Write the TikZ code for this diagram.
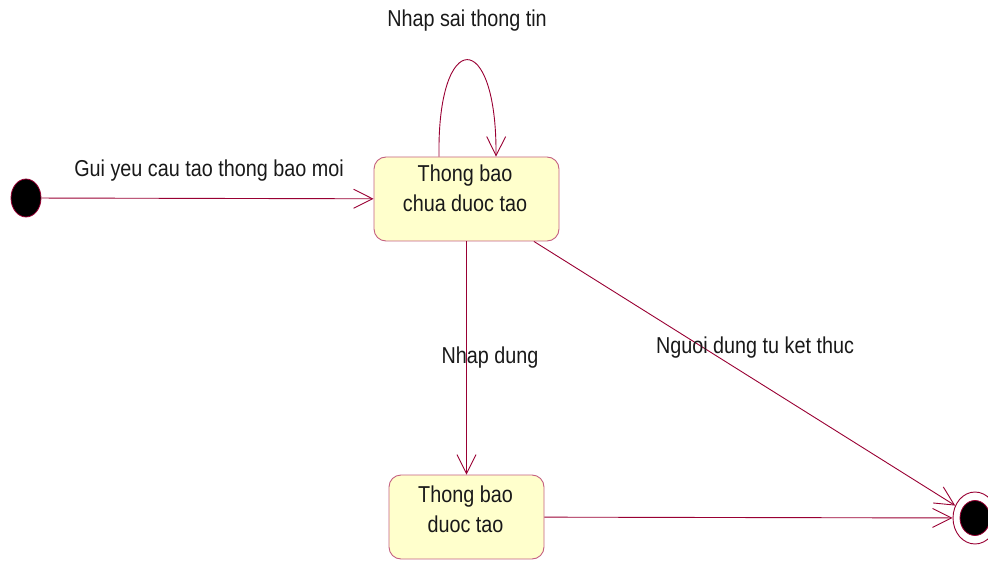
\documentclass[tikz,border=0pt]{standalone}
\usepackage{fontspec}
\setmainfont{Liberation Sans}[FakeStretch=0.86]
\usetikzlibrary{arrows.meta,shapes.geometric}
\definecolor{wire}{RGB}{153,0,51}
\definecolor{boxedge}{RGB}{196,96,128}
\definecolor{boxfill}{RGB}{255,255,204}
\tikzset{
  statebox/.style={draw=boxedge, fill=boxfill, line width=0.9pt, rounded corners=12pt, inner sep=0pt},
  txt/.style={font=\fontsize{23}{30}\selectfont, inner sep=0pt, text=black!90},
  flow/.style={draw=wire, line width=0.9pt, -{Straight Barb[length=19pt,width=19pt,line width=0.9pt]}},
  startdot/.style={ellipse, draw=wire, fill=black, line width=0.8pt, minimum width=30pt, minimum height=38pt, inner sep=0pt},
}
\begin{document}
\begin{tikzpicture}[x=1pt,y=-1pt]
\useasboundingbox (0,0) rectangle (988,561);

% states
\node[statebox, minimum width=185pt, minimum height=84pt] (s1) at (466.5,199) {};
\node[statebox, minimum width=155pt, minimum height=84pt] (s2) at (466.5,517) {};
\node[txt, anchor=base] (s1a) at (465,182) {Thong bao};
\node[txt, anchor=base] (s1b) at (465,212) {chua duoc tao};
\node[txt, anchor=base] (s2a) at (465.5,502) {Thong bao};
\node[txt, anchor=base] (s2b) at (465.5,532) {duoc tao};

% pseudo states
\node[startdot] (init) at (26,198) {};
\node[ellipse, draw=wire, fill=white, line width=0.9pt, minimum width=44pt, minimum height=52pt, inner sep=0pt] (fin) at (975,518) {};
\node[startdot, minimum width=30pt, minimum height=35pt] (fincore) at (975,518) {};

% transitions
\draw[flow] (init) -- (s1);
\draw[flow] ([xshift=-27.5pt]s1.north) .. controls ([xshift=-29.5pt,yshift=129pt]s1.north) and ([xshift=30.5pt,yshift=129pt]s1.north) .. ([xshift=29.5pt]s1.north);
\draw[flow] (s1.south) -- (s2.north);
\draw[flow] (s1) -- (fin);
\draw[flow] (s2) -- (fin);

% labels
\node[txt] (l1) at (209,171) {Gui yeu cau tao thong bao moi};
\node[txt] (l2) at (467,21) {Nhap sai thong tin};
\node[txt] (l3) at (490,358) {Nhap dung};
\node[txt] (l4) at (755,348) {Nguoi dung tu ket thuc};
\end{tikzpicture}
\end{document}
